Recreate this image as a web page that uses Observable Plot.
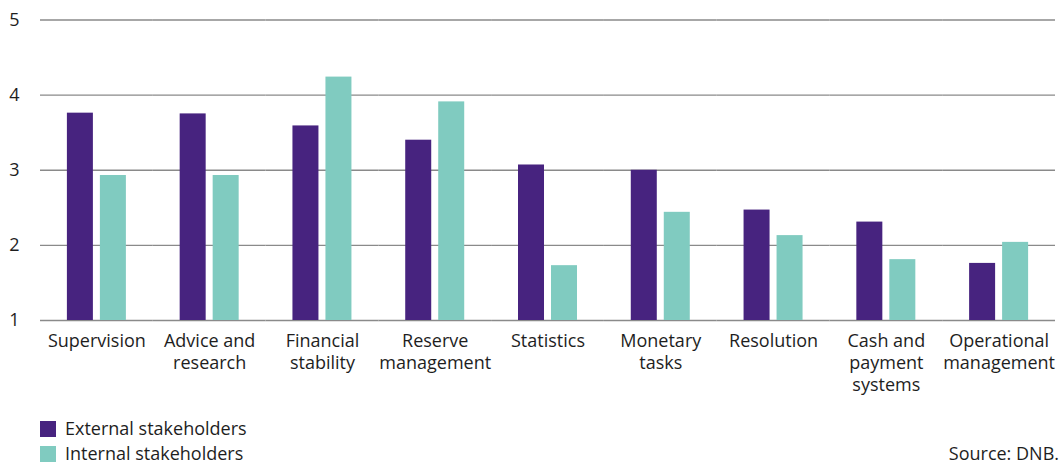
<!DOCTYPE html>
<html>
<head>
<meta charset="utf-8">
<script src="https://cdn.jsdelivr.net/npm/d3@7"></script>
<script src="https://cdn.jsdelivr.net/npm/@observablehq/plot@0.6"></script>
<style>
  html, body { margin: 0; padding: 0; background: #fff; }
  #wrap { position: relative; width: 1060px; height: 468px; font-family: "Open Sans", sans-serif; color: #1e1e1e; }
  #chart svg { display: block; }
  .leg { position: absolute; left: 40px; font-size: 18px; line-height: 25px; height: 25px; display: flex; align-items: center; white-space: nowrap; }
  .sw { width: 16px; height: 16px; margin-right: 9px; flex: none; }
  #source { position: absolute; right: 1px; top: 441px; font-size: 18px; line-height: 25px; }
</style>
</head>
<body>
<div id="wrap">
  <div id="chart"></div>
  <div id="legend"></div>
  <div id="source">Source: DNB.</div>
</div>
<script>
const categories = ["Supervision", "Advice and research", "Financial stability", "Reserve management", "Statistics", "Monetary tasks", "Resolution", "Cash and payment systems", "Operational management"];
const tickLabels = ["Supervision", "Advice and\nresearch", "Financial\nstability", "Reserve\nmanagement", "Statistics", "Monetary\ntasks", "Resolution", "Cash and\npayment\nsystems", "Operational\nmanagement"];
const seriesNames = ["External stakeholders", "Internal stakeholders"];
const seriesColors = ["#47237f", "#80cbc0"];
const externalValues = [3.76, 3.75, 3.59, 3.40, 3.07, 3.00, 2.47, 2.31, 1.76];
const internalValues = [2.93, 2.93, 4.24, 3.91, 1.73, 2.44, 2.13, 1.81, 2.04];
const yTicks = [1, 2, 3, 4, 5];

const data = [];
categories.forEach((c, i) => {
  data.push({category: c, series: seriesNames[0], value: externalValues[i]});
  data.push({category: c, series: seriesNames[1], value: internalValues[i]});
});
const labelOf = new Map(categories.map((c, i) => [c, tickLabels[i]]));

const chart = Plot.plot({
  width: 1060,
  height: 400,
  marginLeft: 40,
  marginRight: 5,
  marginTop: 19.5,
  marginBottom: 80,
  style: {fontFamily: "'Open Sans', sans-serif", fontSize: "18px", color: "#1e1e1e", background: "#fff"},
  fx: {domain: categories, padding: 0, round: false, label: null},
  x: {domain: seriesNames, paddingInner: 0.212, paddingOuter: 0.815, round: false, axis: null},
  y: {domain: [1, 5], label: null},
  color: {domain: seriesNames, range: seriesColors},
  marks: [
    Plot.ruleY(yTicks, {stroke: "#8a8a8a", strokeWidth: 1.3}),
    Plot.barY(data, {fx: "category", x: "series", y1: 1, y2: "value", fill: "series"}),
    Plot.axisY(yTicks, {tickSize: 0, tickPadding: 21, label: null, tickFormat: d => String(d)}),
    Plot.axisFx({anchor: "bottom", tickSize: 0, tickPadding: 11, label: null, lineHeight: 1.22, tickFormat: d => labelOf.get(d)})
  ]
});
document.getElementById("chart").appendChild(chart);

const legend = document.getElementById("legend");
seriesNames.forEach((s, i) => {
  const row = document.createElement("div");
  row.className = "leg";
  row.style.top = (416 + i * 25) + "px";
  const sw = document.createElement("span");
  sw.className = "sw";
  sw.style.background = seriesColors[i];
  const t = document.createElement("span");
  t.textContent = s;
  row.appendChild(sw);
  row.appendChild(t);
  legend.appendChild(row);
});
</script>
</body>
</html>
